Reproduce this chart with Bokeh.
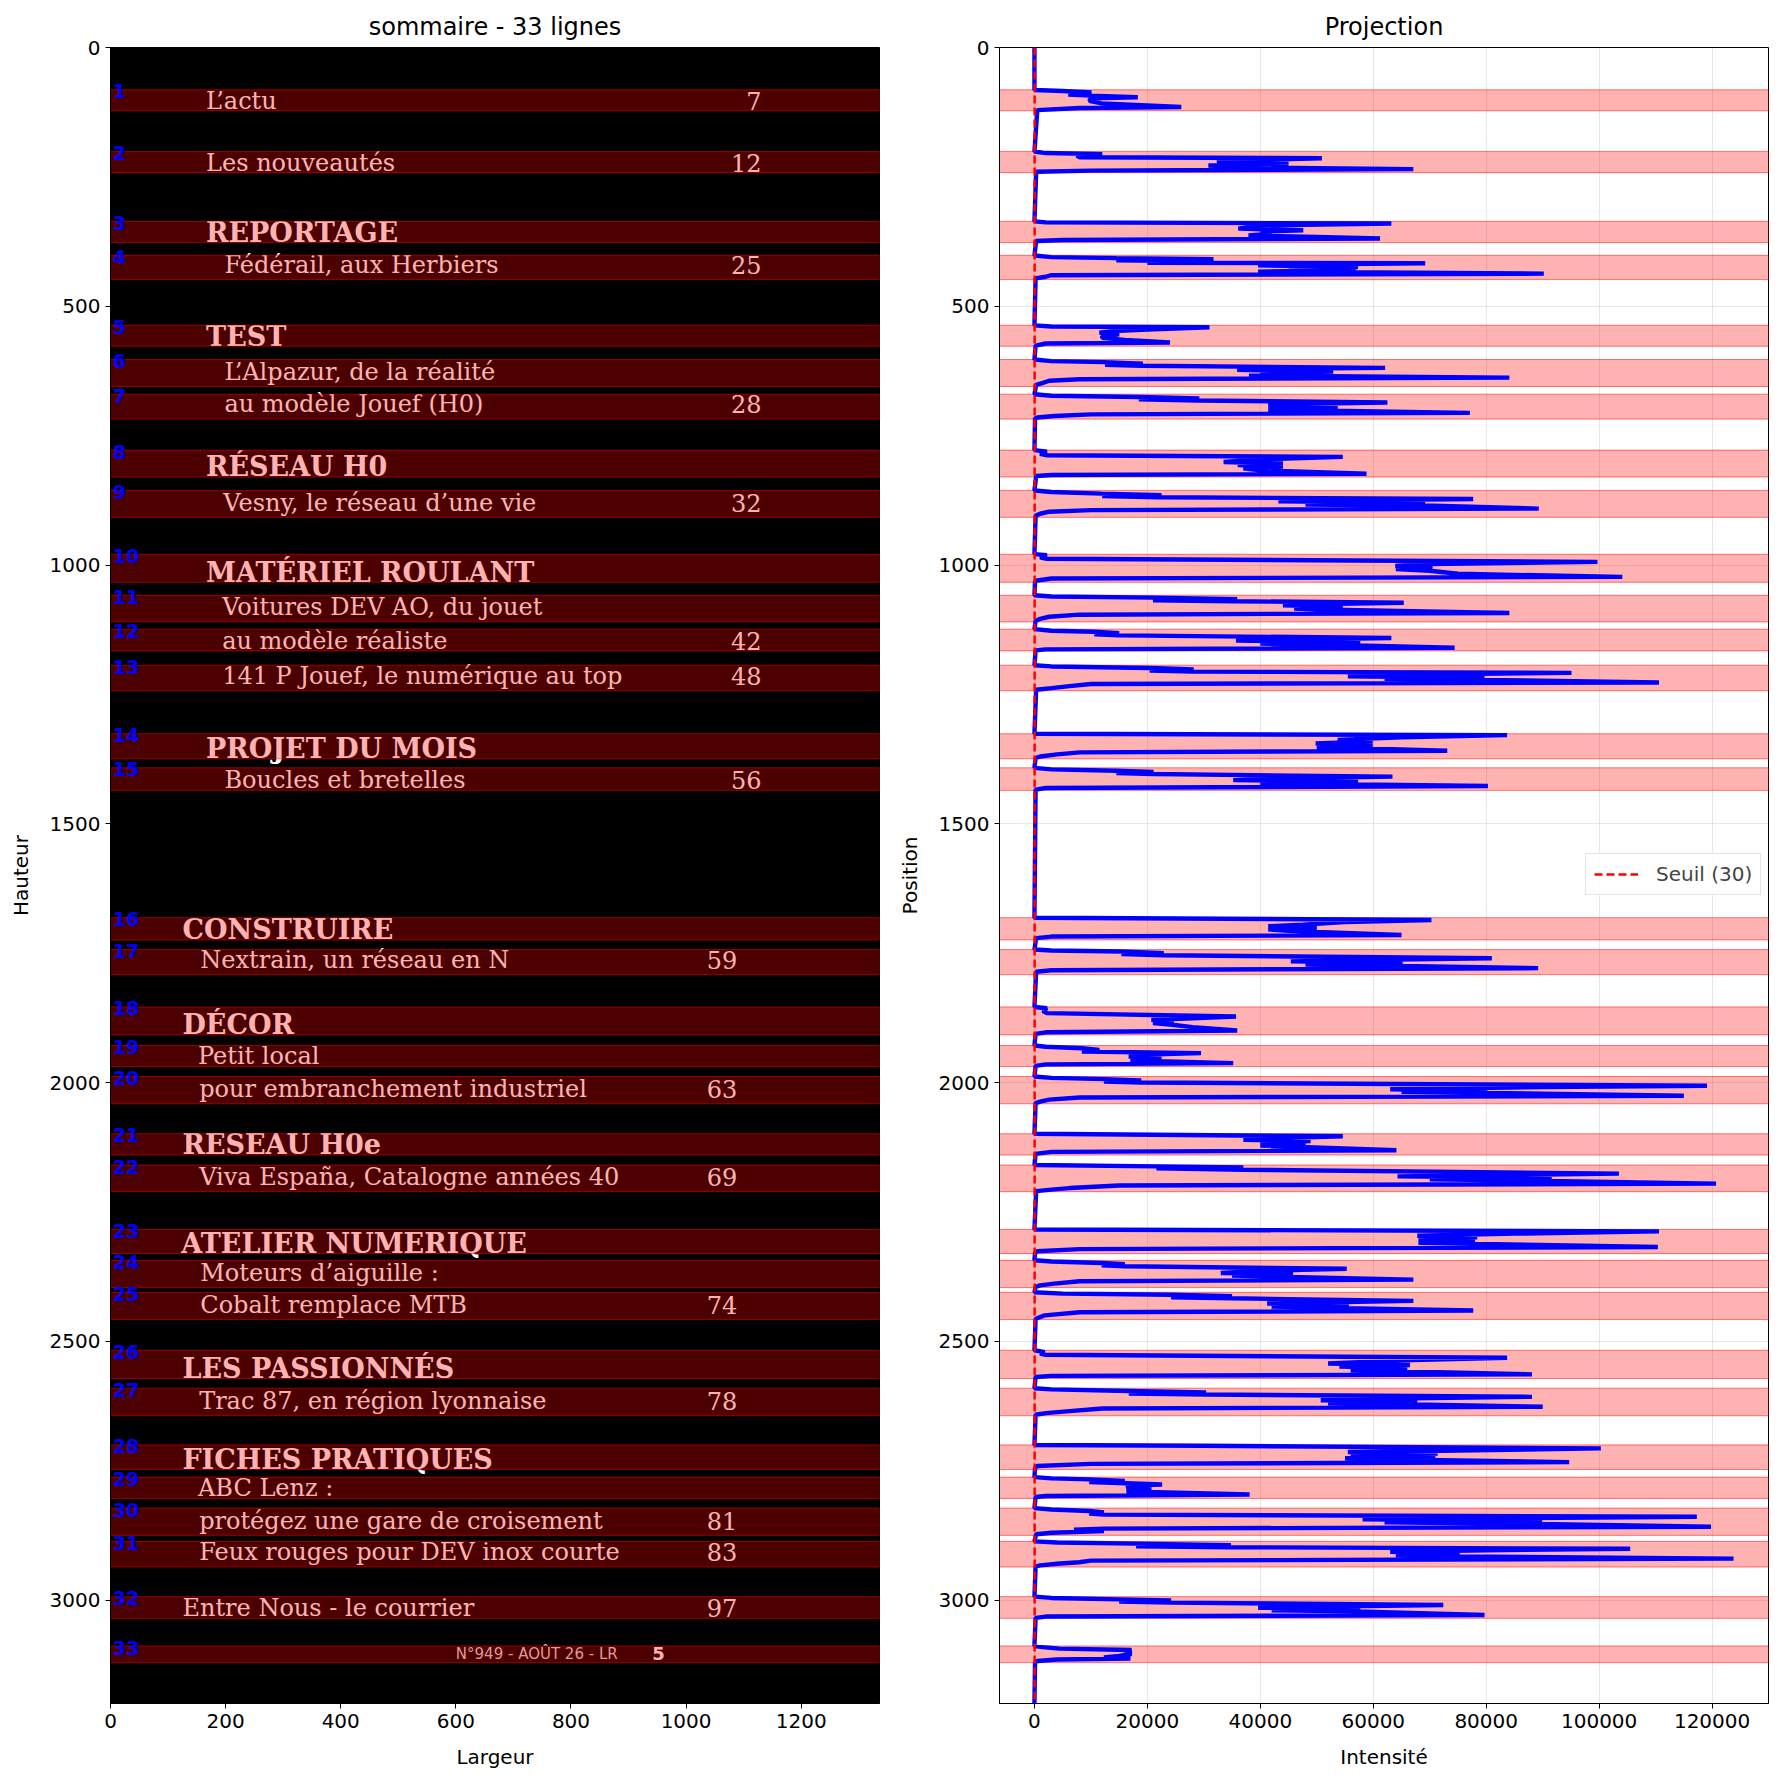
from bokeh.plotting import figure
from bokeh.layouts import row
from bokeh.models import Range1d, Legend, LegendItem, FixedTicker, BasicTickFormatter
from bokeh.embed import file_html
from bokeh.resources import INLINE
from bokeh.core.properties import value

# ---------------- data ----------------
IMG_W = 1336
IMG_H = 3200
SEUIL = 30

band_top = [81.7, 200.8, 335.9, 401.5, 536.7, 602.9, 669.9, 778.0, 855.8, 979.3,
            1058.5, 1124.0, 1193.6, 1326.0, 1391.9, 1681.5, 1743.2, 1853.9, 1928.6, 1988.4,
            2099.0, 2159.5, 2283.8, 2343.6, 2405.4, 2517.4, 2590.7, 2700.3, 2762.5, 2822.4,
            2886.7, 2993.5, 3088.8]
band_bot = [122.2, 241.9, 377.0, 448.5, 577.2, 655.0, 718.1, 830.0, 907.9, 1033.4,
            1110.0, 1166.0, 1243.0, 1374.5, 1435.5, 1724.5, 1791.5, 1908.0, 1969.1, 2041.1,
            2140.2, 2211.0, 2330.7, 2396.3, 2458.1, 2572.0, 2644.0, 2747.7, 2803.7, 2875.1,
            2936.3, 3035.4, 3121.0]

line_text = ["L’actu", "Les nouveautés", "REPORTAGE", "Fédérail, aux Herbiers", "TEST",
             "L’Alpazur, de la réalité", "au modèle Jouef (H0)", "RÉSEAU H0",
             "Vesny, le réseau d’une vie", "MATÉRIEL ROULANT", "Voitures DEV AO, du jouet",
             "au modèle réaliste", "141 P Jouef, le numérique au top", "PROJET DU MOIS",
             "Boucles et bretelles", "CONSTRUIRE", "Nextrain, un réseau en N", "DÉCOR",
             "Petit local", "pour embranchement industriel", "RESEAU H0e",
             "Viva España, Catalogne années 40", "ATELIER NUMERIQUE", "Moteurs d’aiguille :",
             "Cobalt remplace MTB", "LES PASSIONNÉS", "Trac 87, en région lyonnaise",
             "FICHES PRATIQUES", "ABC Lenz :", "protégez une gare de croisement",
             "Feux rouges pour DEV inox courte", "Entre Nous - le courrier",
             "N°949 - AOÛT 26 - LR"]
line_x = [166, 166, 166, 198, 166, 198, 198, 166, 196, 166, 194, 194, 194, 166, 198,
          125, 156, 125, 152, 154, 125, 154, 123, 156, 156, 125, 154, 125, 152, 154, 154, 125, 600]
line_style = ["r", "r", "b", "r", "b", "r", "r", "b", "r", "b", "r", "r", "r", "b", "r",
              "b", "r", "b", "r", "r", "b", "r", "b", "r", "r", "b", "r", "b", "r", "r", "r", "r", "f"]
line_desc = [0, 0, 0, 1, 0, 1, 1, 0, 1, 0, 1, 0, 1, 0, 0,
             0, 1, 0, 0, 1, 0, 1, 0, 1, 1, 0, 1, 0, 0, 1, 1, 0, 0]
page_num = ["7", "12", "", "25", "", "", "28", "", "32", "", "", "42", "48", "", "56",
            "", "59", "", "", "63", "", "69", "", "", "74", "", "78", "", "", "81", "83", "97", "5"]
page_right = [1131] * 15 + [1089] * 17 + [941]

profile_pos = [
    0,
    82, 84, 87, 91, 93, 96, 98, 103, 108, 115, 117, 121,
    201, 204, 206, 209, 212, 214, 218, 220, 222, 224, 226, 228, 232, 235, 238, 240,
    336, 338, 340, 344, 350, 353, 356, 360, 363, 366, 369, 372, 374,
    402, 405, 407, 409, 411, 413, 416, 417, 419, 421, 424, 427, 430, 433, 437, 440, 443, 446,
    537, 539, 540.5, 545, 548, 551, 554, 558, 561, 565, 570, 572, 576,
    603, 606, 608, 611, 613, 615, 619, 621, 623, 626, 629, 632, 634, 638, 641, 644, 648, 652,
    670, 673, 675.5, 678, 680, 682, 686, 689, 692, 695, 698, 700, 706, 709, 712, 715, 717,
    778, 781, 785, 788, 791, 796, 801, 804, 807, 810, 813, 817, 823.6, 826, 828,
    856, 859, 862, 865, 867, 869, 872.5, 875, 877, 880, 883, 885, 891, 894, 897, 901, 905,
    979, 981, 985, 988, 994, 998, 1002, 1005, 1008, 1011, 1017, 1023, 1026, 1030, 1032,
    1058.5, 1061, 1063, 1066, 1068, 1070, 1073, 1076, 1078, 1081, 1084, 1086, 1092.7, 1096, 1100, 1104, 1108,
    1124, 1127, 1129, 1132, 1134, 1136, 1141, 1144, 1146, 1149, 1152, 1155, 1160, 1163, 1165,
    1193.6, 1196, 1199, 1202, 1204, 1206, 1208.5, 1211, 1215, 1218, 1220, 1222, 1227, 1230, 1234, 1238, 1241,
    1326, 1328.8, 1333, 1338, 1341, 1345, 1349, 1352, 1359, 1362, 1366, 1370, 1373,
    1392, 1395, 1397.7, 1400, 1402, 1404, 1409, 1412, 1415.7, 1419, 1422, 1424, 1427, 1431, 1434,
    1681.5, 1685.9, 1690, 1695, 1698, 1701, 1704, 1707, 1715, 1718, 1721,
    1743, 1745, 1747, 1750, 1752, 1754, 1760, 1763, 1766, 1769, 1772, 1775, 1779, 1783, 1786,
    1854, 1856.5, 1862, 1866, 1872.5, 1876, 1879, 1882, 1885, 1888, 1893, 1899.6, 1903, 1906,
    1928.6, 1931, 1933.7, 1937, 1940, 1943.3, 1946, 1950, 1953, 1956, 1959, 1962.6, 1965, 1968,
    1988.4, 1991, 1993.5, 1996, 1998, 2000, 2006.4, 2009, 2013, 2016, 2018, 2020, 2025.7, 2029, 2033, 2037, 2040,
    2099, 2104, 2107, 2110.6, 2113, 2116, 2119, 2122, 2131, 2134, 2138,
    2159.5, 2162, 2164, 2166, 2168.5, 2176, 2179, 2181.4, 2184, 2187, 2190, 2195.5, 2199, 2204, 2207, 2210,
    2284, 2287.6, 2292, 2296, 2299, 2302, 2305, 2310, 2317.8, 2322, 2326, 2329,
    2343.6, 2346, 2348.7, 2351, 2353, 2355, 2360, 2364, 2368, 2370, 2373, 2375.7, 2381, 2384, 2388.6, 2392, 2395,
    2405.4, 2408, 2410, 2413, 2415, 2417, 2422, 2425, 2427, 2430, 2433, 2436, 2440.7, 2444, 2450, 2454, 2457,
    2517.4, 2521, 2524, 2526, 2532, 2537, 2543, 2546, 2549, 2552, 2556, 2564, 2567, 2569,
    2590.7, 2593, 2596, 2599, 2601, 2603, 2607.4, 2611, 2614, 2617, 2620, 2622, 2626.7, 2630, 2635, 2639, 2642,
    2700.5, 2702, 2707, 2711, 2714, 2717, 2720, 2723, 2726, 2728, 2733.6, 2737, 2741, 2745,
    2762.5, 2765, 2767, 2770, 2772, 2776.7, 2779, 2783, 2786, 2790, 2796, 2799, 2801,
    2822.4, 2825, 2828, 2831, 2833, 2835, 2839, 2842, 2844, 2847, 2850, 2853, 2858.4, 2862, 2864, 2867, 2870, 2873,
    2886.7, 2889, 2891, 2894, 2896, 2898, 2901, 2904, 2907, 2910, 2913, 2916, 2920, 2924, 2927, 2930, 2933, 2935.5,
    2993.5, 2996, 2998.7, 3001, 3003, 3005, 3009.6, 3012, 3015, 3017, 3020, 3022, 3029, 3032, 3034.5,
    3088.8, 3091, 3094, 3096.5, 3100, 3104, 3108, 3111, 3113, 3115, 3118, 3120,
    3199,
]
profile_val = [
    0,
    0, 5000, 10100, 6000, 10000, 18300, 10000, 9700, 11900, 26000, 8000, 500,
    0, 2000, 12000, 7500, 8000, 50900, 36000, 32300, 45000, 33000, 45000, 30800, 40000, 67100, 10000, 300,
    0, 2000, 63200, 40000, 36100, 47600, 40000, 42000, 37900, 50000, 61200, 5000, 300,
    0, 3000, 14500, 31700, 14500, 31000, 20000, 69200, 50000, 39600, 57300, 45000, 57000, 39600, 90200, 3000, 2000, 200,
    0, 3000, 31000, 20000, 14000, 11500, 15000, 12000, 12000, 16000, 24000, 2000, 200,
    0, 3000, 12300, 19200, 12500, 19000, 62100, 40000, 35900, 52900, 40000, 52000, 38000, 84100, 8000, 2600, 1500, 300,
    0, 3000, 18500, 29200, 18500, 29000, 62500, 45000, 41400, 53700, 45000, 41400, 77100, 10000, 3500, 500, 100,
    0, 2200, 1000, 2200, 54600, 40000, 33500, 44000, 36000, 44000, 37000, 40000, 58800, 3000, 300,
    0, 3000, 11900, 22500, 12000, 22000, 77700, 55000, 43200, 69200, 48000, 69000, 89300, 10000, 2600, 1000, 200,
    0, 2200, 1000, 2200, 99700, 70000, 63900, 70500, 64000, 70000, 75000, 104100, 3000, 500, 100,
    0, 3000, 21100, 35900, 21000, 35000, 65400, 48000, 44000, 54600, 46000, 50000, 84100, 8000, 2600, 1000, 200,
    0, 3000, 10600, 15000, 10600, 15000, 63200, 45000, 35700, 57700, 40000, 55000, 74400, 2000, 200,
    0, 3000, 20400, 28200, 20400, 28000, 95100, 70000, 55500, 79700, 62000, 79000, 110600, 10000, 6200, 3000, 300,
    0, 83700, 65000, 53700, 59900, 49800, 59900, 50000, 73100, 8000, 4000, 1000, 200,
    0, 3000, 14500, 21100, 14500, 21000, 63400, 45000, 35200, 57300, 40000, 57000, 80300, 2000, 200,
    0, 70300, 55000, 47600, 41400, 50000, 41400, 45000, 65000, 3000, 300,
    0, 3000, 15400, 22900, 15400, 22900, 81000, 60000, 45400, 65200, 48000, 65000, 89200, 3000, 300,
    0, 2200, 1500, 2200, 35700, 28000, 20700, 24700, 21000, 24000, 28000, 35900, 2000, 200,
    0, 2000, 8400, 11500, 8400, 29500, 20000, 16700, 22500, 17000, 22000, 35200, 2000, 200,
    0, 3000, 12300, 18900, 12300, 18900, 119100, 90000, 63000, 80200, 65000, 80000, 115000, 8000, 2600, 1000, 200,
    0, 54600, 45000, 37000, 48900, 40000, 48000, 40000, 64100, 3000, 200,
    0, 21600, 37000, 21600, 37000, 103500, 80000, 64300, 91600, 70000, 91000, 120700, 15000, 6200, 3000, 300,
    0, 110600, 85000, 67800, 78400, 68000, 78000, 68000, 110400, 8000, 500, 100,
    0, 3000, 11900, 16000, 11900, 16000, 55300, 40000, 33000, 45800, 35000, 45000, 67100, 8000, 3500, 1000, 200,
    0, 5000, 24200, 35000, 24200, 35000, 67100, 50000, 41200, 55700, 42000, 55000, 77700, 8000, 1800, 800, 200,
    0, 1800, 1000, 1800, 83700, 65000, 52000, 66500, 54000, 66000, 56000, 88100, 3000, 200,
    0, 3000, 16700, 30400, 16700, 30400, 88100, 60000, 50700, 67800, 52000, 67000, 90000, 12000, 6200, 2000, 200,
    0, 30000, 100300, 75000, 55500, 71400, 56000, 71000, 55000, 60000, 94700, 10000, 500, 100,
    0, 3000, 9700, 16000, 9700, 22600, 17000, 16300, 20700, 16300, 38100, 2000, 200,
    0, 3000, 9700, 12300, 9700, 12300, 117300, 85000, 58100, 89900, 62000, 89000, 119800, 12300, 7000, 12300, 3000, 300,
    0, 4000, 18000, 34800, 18000, 34800, 105500, 80000, 63000, 75300, 64000, 75000, 123800, 10000, 7900, 4000, 1000, 200,
    0, 3000, 15000, 24200, 15000, 24200, 72400, 55000, 39600, 57700, 42000, 57000, 79700, 2000, 200,
    0, 1500, 4400, 17200, 16000, 17200, 15000, 12300, 17000, 4000, 500, 100,
    0,
]

x_ticks_img = [0, 200, 400, 600, 800, 1000, 1200]
y_ticks = [0, 500, 1000, 1500, 2000, 2500, 3000]
x_ticks_int = [0, 20000, 40000, 60000, 80000, 100000, 120000]

# ---------------- layout constants ----------------
FRAME_W = 769
FRAME_H = 1656
TOP = 47
BOTTOM = 80
L1, R1 = 110, 14
L2, R2 = 106, 6


def style(p, xt, yt):
    for ax in (p.xaxis[0], p.yaxis[0]):
        ax.major_tick_in = 0
        ax.major_tick_out = 5
        ax.minor_tick_line_color = None
        ax.axis_line_color = "black"
        ax.major_tick_line_color = "black"
        ax.major_label_text_font = "DejaVu Sans"
        ax.major_label_text_font_size = "20px"
        ax.major_label_text_color = "black"
        ax.axis_label_text_font = "DejaVu Sans"
        ax.axis_label_text_font_size = "20px"
        ax.axis_label_text_font_style = "normal"
        ax.axis_label_text_color = "black"
    p.xaxis.ticker = FixedTicker(ticks=xt)
    p.yaxis.ticker = FixedTicker(ticks=yt)
    p.xaxis.axis_label_standoff = 14
    p.yaxis.axis_label_standoff = 14
    p.outline_line_color = "black"
    p.outline_line_width = 1
    p.outline_line_alpha = 1
    p.title.align = "center"
    p.title.text_font = "DejaVu Sans"
    p.title.text_font_size = "24px"
    p.title.text_font_style = "normal"
    p.title.text_color = "black"
    p.title.standoff = 13


# ---------------- left panel ----------------
p1 = figure(width=L1 + FRAME_W + R1, height=TOP + FRAME_H + BOTTOM,
            x_range=Range1d(0, IMG_W), y_range=Range1d(IMG_H, 0),
            title="sommaire - 33 lignes", x_axis_label="Largeur", y_axis_label="Hauteur",
            output_backend="svg", toolbar_location=None,
            min_border_left=L1, min_border_right=R1, min_border_top=TOP, min_border_bottom=BOTTOM)
p1.background_fill_color = "black"
p1.grid.visible = False
style(p1, x_ticks_img, y_ticks)

SHIFT = 17.6  # vertical correction of text placement (data units)
reg = dict(x=[], y=[], t=[])
bold = dict(x=[], y=[], t=[])
pages = dict(x=[], y=[], t=[])
for i, t in enumerate(line_text):
    base = band_bot[i] - (11 if line_desc[i] else 2) - SHIFT
    if line_style[i] == "f":
        continue
    d = bold if line_style[i] == "b" else reg
    d["x"].append(line_x[i]); d["y"].append(base); d["t"].append(t)
    if page_num[i]:
        pages["x"].append(page_right[i]); pages["y"].append(base); pages["t"].append(page_num[i])

p1.text(x=reg["x"], y=reg["y"], text=reg["t"], text_font=value("DejaVu Serif"),
        text_font_size="24px", text_color="white", text_baseline="alphabetic", text_align="left")
p1.text(x=bold["x"], y=bold["y"], text=bold["t"], text_font=value("DejaVu Serif"),
        text_font_size="27px", text_font_style="bold", text_color="white",
        text_baseline="alphabetic", text_align="left")
p1.text(x=pages["x"], y=pages["y"], text=pages["t"], text_font=value("DejaVu Serif"),
        text_font_size="24px", text_color="white", text_baseline="alphabetic", text_align="right")

# footer line (last row)
fi = len(line_text) - 1
p1.text(x=[line_x[fi]], y=[band_bot[fi] - 16], text=[line_text[fi]], text_font=value("DejaVu Sans"),
        text_font_size="15px", text_color="#d8d8d8", text_baseline="alphabetic", text_align="left")
p1.text(x=[page_right[fi]], y=[band_bot[fi] - 18], text=[page_num[fi]], text_font=value("DejaVu Sans"),
        text_font_size="18px", text_font_style="bold", text_color="white",
        text_baseline="alphabetic", text_align="left")

p1.quad(left=0, right=IMG_W, top=band_top, bottom=band_bot,
        fill_color="red", fill_alpha=0.3, line_color="red", line_alpha=0.5, line_width=1)

p1.text(x=[4] * len(band_top), y=[t + 3 for t in band_top],
        text=[str(i + 1) for i in range(len(band_top))], text_font=value("DejaVu Sans"),
        text_font_size="19px", text_font_style="bold", text_color="blue",
        text_baseline="alphabetic", text_align="left")

# ---------------- right panel ----------------
vmax = max(profile_val)
pad = 0.05 * vmax
x_lo, x_hi = -pad, vmax + pad
p2 = figure(width=L2 + FRAME_W + R2, height=TOP + FRAME_H + BOTTOM,
            x_range=Range1d(x_lo, x_hi), y_range=Range1d(IMG_H, 0),
            title="Projection", x_axis_label="Intensité", y_axis_label="Position",
            output_backend="svg", toolbar_location=None,
            min_border_left=L2, min_border_right=R2, min_border_top=TOP, min_border_bottom=BOTTOM)
style(p2, x_ticks_int, y_ticks)
p2.xaxis.formatter = BasicTickFormatter(use_scientific=False)
p2.grid.grid_line_color = "#b0b0b0"
p2.grid.grid_line_alpha = 0.3
p2.grid.grid_line_width = 1

p2.quad(left=x_lo, right=x_hi, top=band_top, bottom=band_bot,
        fill_color="red", fill_alpha=0.3, line_color="red", line_alpha=0.5, line_width=1)

n = min(len(profile_pos), len(profile_val))
p2.line(x=profile_val[:n], y=profile_pos[:n], line_color="blue", line_width=4.4)
thr = p2.line(x=[SEUIL, SEUIL], y=[0, IMG_H], line_color="red", line_dash="8 4", line_width=2.5)

legend = Legend(items=[LegendItem(label="Seuil (30)", renderers=[thr])],
                location=(586, 808), border_line_color="#cccccc", border_line_width=1,
                background_fill_color="white", background_fill_alpha=0.85,
                label_text_font="DejaVu Sans", label_text_font_size="20px",
                glyph_width=44, glyph_height=20, label_standoff=18, padding=8, margin=0)
p2.add_layout(legend)

layout = row(p1, p2)
open("out.html", "w").write(file_html(layout, INLINE))
